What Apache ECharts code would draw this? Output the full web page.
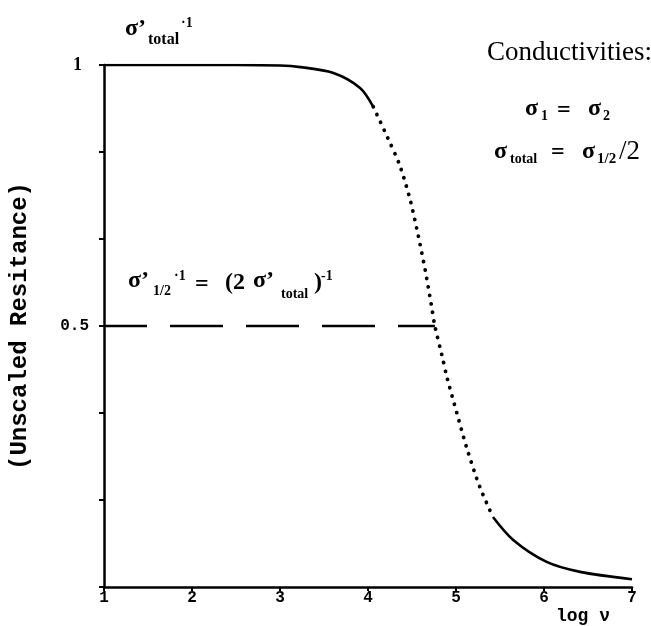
<!DOCTYPE html>
<html>
<head>
<meta charset="utf-8">
<script src="https://cdn.jsdelivr.net/npm/echarts@6/dist/echarts.min.js"></script>
<style>
	html, body { margin: 0; padding: 0; background: #fff; }
	#chart { width: 651px; height: 626px; }
</style>
</head>
<body>
<div id="chart"></div>
<script>
	// curve: log nu -> unscaled resistance
	var logNu = [1, 1.5, 2, 2.5, 3, 3.23, 3.60, 3.91, 4.06, 4.22, 4.36, 4.48, 4.57, 4.65, 4.72,
		4.76, 4.84, 4.90, 5.01, 5.13, 5.27, 5.42, 5.65, 6.03, 6.41, 7.0];
	var resistance = [1, 1, 1, 1, 0.999, 0.996, 0.985, 0.956, 0.920, 0.862, 0.808, 0.741, 0.674, 0.607, 0.540,
		0.5, 0.444, 0.400, 0.333, 0.262, 0.192, 0.134, 0.090, 0.048, 0.029, 0.015];
	// dashed half level, ends where the curve crosses it
	var halfLevel = 0.5;
	var halfCross = 4.76;
	var xTicks = ['1', '2', '3', '4', '5', '6', '7'];
	var yTickLabels = ['1', '0.5'];
	// the steep middle part is printed as dots
	var dotFrom = 8, dotTo = 21;

	function pts(a, b) {
		var out = [];
		for (var i = a; i <= b; i++) out.push([logNu[i], resistance[i]]);
		return out;
	}

	var serif = 'Liberation Serif';
	var mono = 'Liberation Mono';

	function txt(x, y, s, size, bold, font) {
		return {
			type: 'text', x: x, y: y,
			style: {
				text: s, fontSize: size, fontFamily: font || serif,
				fontWeight: bold ? 'bold' : 'normal', fill: '#000',
				align: 'left', verticalAlign: 'middle'
			}
		};
	}

	var myChart = echarts.init(document.getElementById('chart'));
	var axisFont = { fontFamily: mono, fontWeight: 'bold', fontSize: 16, color: '#000' };

	var option = {
		animation: false,
		backgroundColor: '#fff',
		grid: { left: 104, right: 19, top: 65, bottom: 39, containLabel: false, outerBoundsMode: 'none' },
		xAxis: {
			type: 'value', min: 1, max: 7, interval: 1,
			splitLine: { show: false },
			axisLine: { onZero: false, lineStyle: { color: '#000', width: 2.5 } },
			axisTick: { length: 4, lineStyle: { color: '#000', width: 2 } },
			axisLabel: Object.assign({ margin: 3, formatter: function (v) { return xTicks[v - 1]; } }, axisFont)
		},
		yAxis: {
			type: 'value', min: 0, max: 1, interval: 1 / 6,
			name: '(Unscaled Resitance)', nameLocation: 'middle', nameGap: 72, nameRotate: 90,
			nameTextStyle: { fontFamily: mono, fontWeight: 'bold', fontSize: 24, color: '#000' },
			splitLine: { show: false },
			axisLine: { lineStyle: { color: '#000', width: 2.5 } },
			axisTick: { length: 5, lineStyle: { color: '#000', width: 2 } },
			axisLabel: Object.assign({
				margin: 15,
				formatter: function (v) {
					if (Math.abs(v - 1) < 1e-6) return '{one|' + yTickLabels[0] + '}';
					if (Math.abs(v - 0.5) < 1e-6) return yTickLabels[1];
					return '';
				},
				rich: { one: { fontFamily: serif, fontWeight: 'bold', fontSize: 18, color: '#000', padding: [0, 7, 0, 0] } }
			}, axisFont)
		},
		series: [
			{
				type: 'line', data: [[logNu[0], halfLevel], [halfCross, halfLevel]], symbol: 'none',
				lineStyle: { color: '#000', width: 2.5, type: [53, 23], dashOffset: 10 }, z: 2
			},
			{
				type: 'line', data: pts(0, dotFrom), symbol: 'none', smooth: 0.3,
				lineStyle: { color: '#000', width: 2.6 }
			},
			{
				type: 'line', data: pts(dotFrom, dotTo), symbol: 'none', smooth: 0.3,
				lineStyle: { color: '#000', width: 3.8, type: [0.1, 8.5], cap: 'round' }
			},
			{
				type: 'line', data: pts(dotTo, logNu.length - 1), symbol: 'none', smooth: 0.3,
				lineStyle: { color: '#000', width: 2.6 }
			}
		],
		graphic: [
			// sigma'_total ^-1 above the axis
			txt(125, 29, 'σ’', 24, true),
			txt(148, 40, 'total', 16, true),
			txt(181, 23, '·1', 14, true),
			// legend block, top right
			txt(487, 53, 'Conductivities:', 27, false),
			txt(525, 109, 'σ', 24, true),
			txt(541, 116, '1', 14, true),
			txt(557, 111, '=', 24, true),
			txt(588, 109, 'σ', 24, true),
			txt(603, 116, '2', 14, true),
			txt(494, 152, 'σ', 24, true),
			txt(510, 159, 'total', 14, true),
			txt(551, 153, '=', 24, true),
			txt(582, 152, 'σ', 24, true),
			txt(597, 159, '1/2', 15, true),
			txt(619, 152, '/2', 27, false),
			// label of the half level
			txt(128, 281, 'σ’', 24, true),
			txt(153, 291, '1/2', 14, true),
			txt(174, 276, '·1', 14, true),
			txt(195, 285, '=', 24, true),
			txt(225, 283, '(2', 24, true),
			txt(253, 281, 'σ’', 24, true),
			txt(281, 294, 'total', 14, true),
			txt(314, 283, ')', 24, true),
			txt(321, 276, '-1', 14, true),
			// x axis name
			txt(556, 616, 'log ν', 18, true, mono)
		]
	};
	myChart.setOption(option);
</script>
</body>
</html>
